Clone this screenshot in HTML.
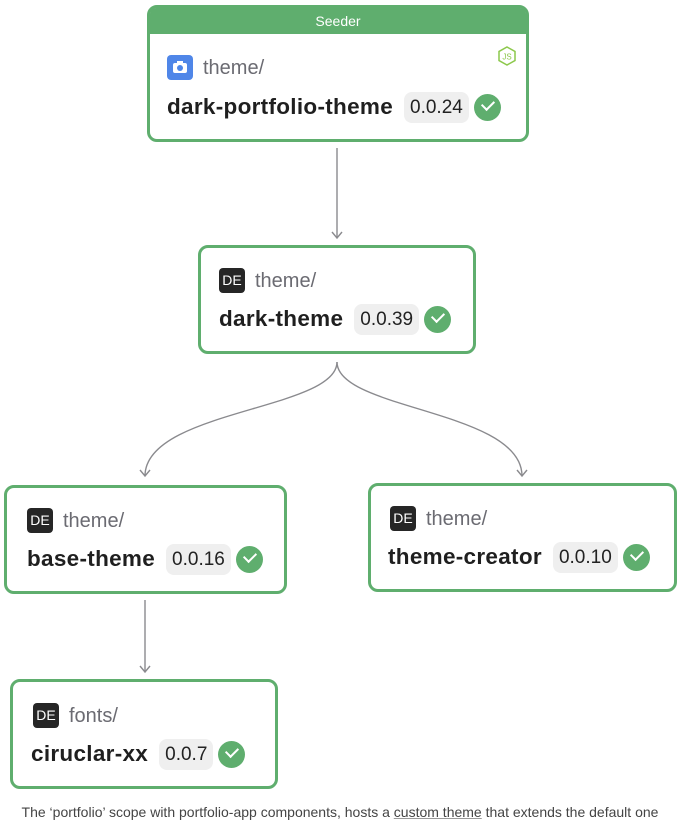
<!DOCTYPE html>
<html><head><meta charset="utf-8"><style>
body{margin:0;width:680px;height:822px;background:#fff;position:relative;font-family:"Liberation Sans",sans-serif;overflow:hidden}
.box{position:absolute;border:3px solid #5fae6e;border-radius:10px;box-sizing:border-box;background:#fff}
.hdr{position:absolute;left:0;right:0;top:0;height:26px;background:#5fae6e;color:#fff;font-size:14px;text-align:center;line-height:26px;border-radius:6px 6px 0 0}
.ic{position:absolute;width:26px;height:25px;border-radius:4px;background:#262626;color:#fff;font-size:14px;line-height:25px;text-align:center}
.sc{position:absolute;font-size:20px;color:#6b6b72;line-height:26px}
.row{position:absolute;display:flex;align-items:center;height:32px;white-space:nowrap}
.nm{font-weight:bold;font-size:22.5px;letter-spacing:0.3px;color:#1f1f1f;margin-right:11px;line-height:32px}
.pill{background:#efefef;border-radius:8px;font-size:19px;color:#222;padding:0 6px;height:31px;line-height:31px}
.ck{width:27px;height:27px;border-radius:50%;background:#5fae6e;margin-left:5px;position:relative}
.ck:after{content:"";position:absolute;left:8px;top:6px;width:10px;height:6px;border-left:2.5px solid #fff;border-bottom:2.5px solid #fff;transform:rotate(-45deg)}
.cap{position:absolute;top:804px;left:0;width:680px;text-align:center;font-size:14px;color:#444}
</style></head><body>
<svg width="680" height="822" style="position:absolute;left:0;top:0">
<g stroke="#8a8a8e" stroke-width="1.4" fill="none">
<path d="M337 148 V237"/><path d="M332 232 L337 238 L342 232"/>
<path d="M337 362 C337 410 145 410 145 476"/><path d="M140 470 L145 476 L150 470"/>
<path d="M337 362 C337 410 522 410 522 476"/><path d="M517 470 L522 476 L527 470"/>
<path d="M145 600 V671"/><path d="M140 666 L145 672 L150 666"/>
</g></svg>

<div class="box" style="left:147px;top:5px;width:382px;height:137px">
<div class="hdr">Seeder</div>
<div class="ic" style="left:17px;top:47px;background:#4f86e8"><svg width="26" height="25"><rect x="6" y="8" width="14" height="10" rx="2" fill="#fff"/><rect x="10" y="6" width="6" height="3" fill="#fff"/><circle cx="13" cy="13" r="3" fill="#4f86e8"/></svg></div>
<div class="sc" style="left:53px;top:47px">theme/</div>
<div style="position:absolute;right:10px;top:38px;width:18px;height:20px"><svg width="18" height="20"><polygon points="9,1 17,5.5 17,14.5 9,19 1,14.5 1,5.5" fill="none" stroke="#8cc84b" stroke-width="1.5"/><text x="9" y="13.5" font-size="8" fill="#8cc84b" text-anchor="middle" font-family="Liberation Sans">JS</text></svg></div>
<div class="row" style="left:17px;top:83px"><span class="nm">dark-portfolio-theme</span><span class="pill">0.0.24</span><span class="ck"></span></div>
</div>

<div class="box" style="left:198px;top:245px;width:278px;height:109px">
<div class="ic" style="left:18px;top:20px">DE</div>
<div class="sc" style="left:54px;top:20px">theme/</div>
<div class="row" style="left:18px;top:55px"><span class="nm">dark-theme</span><span class="pill">0.0.39</span><span class="ck"></span></div>
</div>

<div class="box" style="left:4px;top:485px;width:283px;height:109px">
<div class="ic" style="left:20px;top:20px">DE</div>
<div class="sc" style="left:56px;top:20px">theme/</div>
<div class="row" style="left:20px;top:55px"><span class="nm">base-theme</span><span class="pill">0.0.16</span><span class="ck"></span></div>
</div>

<div class="box" style="left:368px;top:483px;width:309px;height:109px">
<div class="ic" style="left:19px;top:20px">DE</div>
<div class="sc" style="left:55px;top:20px">theme/</div>
<div class="row" style="left:17px;top:55px"><span class="nm">theme-creator</span><span class="pill">0.0.10</span><span class="ck"></span></div>
</div>

<div class="box" style="left:10px;top:679px;width:268px;height:110px">
<div class="ic" style="left:20px;top:21px">DE</div>
<div class="sc" style="left:56px;top:21px">fonts/</div>
<div class="row" style="left:18px;top:56px"><span class="nm">ciruclar-xx</span><span class="pill">0.0.7</span><span class="ck"></span></div>
</div>

<div class="cap">The ‘portfolio’ scope with portfolio-app components, hosts a <span style="text-decoration:underline;text-decoration-color:#999">custom theme</span> that extends the default one</div>
</body></html>
